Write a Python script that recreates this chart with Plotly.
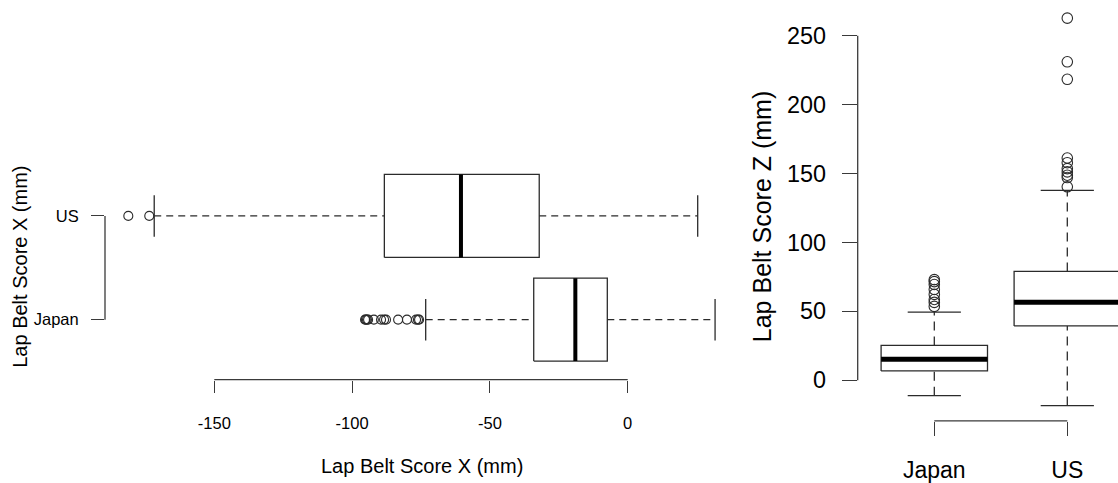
import plotly.graph_objects as go

# ---------------- data ----------------
groups = ["Japan", "US"]
group_pos = [1, 2]

# Left panel: Lap Belt Score X (mm), horizontal boxes
x_lower = [-73.3, -171.8]
x_q1 = [-34.1, -88.3]
x_median = [-19.0, -60.5]
x_q3 = [-7.4, -32.1]
x_upper = [31.7, 25.4]
x_out_japan = [-95.3, -95.0, -94.6, -94.2, -92.1, -89.5, -88.4, -87.7, -83.3, -80.1, -76.8, -76.1, -75.7]
x_out_us = [-181.2, -173.6]
x_ticks = [-150, -100, -50, 0]

# Right panel: Lap Belt Score Z (mm), vertical boxes
z_lower = [-11.3, -18.5]
z_q1 = [6.7, 39.3]
z_median = [15.1, 56.6]
z_q3 = [25.2, 78.9]
z_upper = [49.4, 137.7]
z_out_japan = [72.9, 71.5, 69.4, 65.8, 62.2, 58.5, 56.4, 53.5]
z_out_us = [262.7, 231.0, 218.3, 161.2, 157.8, 153.5, 151.1, 148.7, 147.0, 140.3]
z_ticks = [0, 50, 100, 150, 200, 250]

# ---------------- layout geometry ----------------
W, H = 1118, 483
FONT = "Liberation Sans, Arial, sans-serif"
LINE = "#2b2b2b"
AX = "#3a3a3a"
BOXW = 0.4   # half box width
STAP = 0.2   # half staple width


def px_x(p):
    return p / W


def px_y(p):
    return 1 - p / H


# left panel pixel placement
L_left, L_right, L_top, L_bottom = 105, 735, 140, 382.7
lx0, lxs = 627.7, 2.756          # pixel of value 0, px per unit
ly1, lys = 322.3, 104.6          # pixel of category 1, px per unit
# right panel pixel placement
R_left, R_right, R_top, R_bottom = 857.7, 1118, 0, 424.3
ry0, rys = 383.3, 1.3895
rx1, rxs = 934.3, 133.0

fig = go.Figure()


def seg_lists(orient, lo, q1, med, q3, hi, pos):
    box_a, box_b = [], []
    med_a, med_b = [], []
    wh_a, wh_b = [], []
    st_a, st_b = [], []
    for i in range(len(pos)):
        p = pos[i]
        box_a += [q1[i], q3[i], q3[i], q1[i], q1[i], None]
        box_b += [p - BOXW, p - BOXW, p + BOXW, p + BOXW, p - BOXW, None]
        med_a += [med[i], med[i], None]
        med_b += [p - BOXW, p + BOXW, None]
        wh_a += [lo[i], q1[i], None, q3[i], hi[i], None]
        wh_b += [p, p, None, p, p, None]
        st_a += [lo[i], lo[i], None, hi[i], hi[i], None]
        st_b += [p - STAP, p + STAP, None, p - STAP, p + STAP, None]
    if orient == "h":
        return (box_a, box_b), (med_a, med_b), (wh_a, wh_b), (st_a, st_b)
    return (box_b, box_a), (med_b, med_a), (wh_b, wh_a), (st_b, st_a)


def add_panel(orient, lo, q1, med, q3, hi, outs, xa, ya, medw, dash, msize):
    box, medl, wh, st = seg_lists(orient, lo, q1, med, q3, hi, group_pos)
    fig.add_trace(go.Scatter(x=wh[0], y=wh[1], mode="lines", xaxis=xa, yaxis=ya,
                             line=dict(color=LINE, width=1.3, dash=dash), hoverinfo="skip"))
    fig.add_trace(go.Scatter(x=st[0], y=st[1], mode="lines", xaxis=xa, yaxis=ya,
                             line=dict(color=LINE, width=1.3), hoverinfo="skip"))
    fig.add_trace(go.Scatter(x=box[0], y=box[1], mode="lines", xaxis=xa, yaxis=ya,
                             line=dict(color=LINE, width=1.3), hoverinfo="skip"))
    fig.add_trace(go.Scatter(x=medl[0], y=medl[1], mode="lines", xaxis=xa, yaxis=ya,
                             line=dict(color="black", width=medw), hoverinfo="skip"))
    for p, vals in zip(group_pos, outs):
        other = [p] * len(vals)
        xs, ys = (vals, other) if orient == "h" else (other, vals)
        fig.add_trace(go.Scatter(x=xs, y=ys, mode="markers", xaxis=xa, yaxis=ya,
                                 marker=dict(symbol="circle-open", size=msize,
                                             color=LINE, line=dict(width=1.1)),
                                 cliponaxis=False))


add_panel("h", x_lower, x_q1, x_median, x_q3, x_upper, [x_out_japan, x_out_us],
          "x", "y", 4, "7px,5px", 9)
add_panel("v", z_lower, z_q1, z_median, z_q3, z_upper, [z_out_japan, z_out_us],
          "x2", "y2", 5, "9px,6px", 10.5)

common = dict(showgrid=False, zeroline=False, showline=False, ticks="outside",
              tickcolor=AX, tickwidth=1.3, tickfont=dict(family=FONT, color="black"))

fig.update_layout(
    width=W, height=H, margin=dict(l=0, r=0, t=0, b=0),
    plot_bgcolor="white", paper_bgcolor="white", showlegend=False,
    xaxis=dict(domain=[px_x(L_left), px_x(L_right)],
               range=[(L_left - lx0) / lxs, (L_right - lx0) / lxs],
               tickvals=x_ticks, ticktext=[str(t) for t in x_ticks],
               ticklen=12, ticklabelstandoff=17, anchor="y", **common),
    yaxis=dict(domain=[px_y(L_bottom), px_y(L_top)],
               range=[1 + (ly1 - L_bottom) / lys, 1 + (ly1 - L_top) / lys],
               tickvals=group_pos, ticktext=groups,
               ticklen=13, ticklabelstandoff=9, anchor="x", **common),
    xaxis2=dict(domain=[px_x(R_left), px_x(R_right)],
                range=[1 + (R_left - rx1) / rxs, 1 + (R_right - rx1) / rxs],
                tickvals=group_pos, ticktext=groups,
                ticklen=14, ticklabelstandoff=15, anchor="y2", **common),
    yaxis2=dict(domain=[px_y(R_bottom), px_y(R_top)],
                range=[(ry0 - R_bottom) / rys, (ry0 - R_top) / rys],
                tickvals=z_ticks, ticktext=[str(t) for t in z_ticks],
                ticklen=15, ticklabelstandoff=11, anchor="x2", **common),
)
fig.update_xaxes(tickfont_size=16.5, selector=dict(anchor="y"))
fig.update_yaxes(tickfont_size=16.5, selector=dict(anchor="x"))
fig.update_xaxes(tickfont_size=23, selector=dict(anchor="y2"))
fig.update_yaxes(tickfont_size=23.4, selector=dict(anchor="x2"))

# detached R-style axis lines spanning only the tick range
fig.add_shape(type="line", xref="x", yref="paper", x0=min(x_ticks), x1=max(x_ticks),
              y0=px_y(L_bottom), y1=px_y(L_bottom), line=dict(color=AX, width=1.3))
fig.add_shape(type="line", xref="paper", yref="y", x0=px_x(L_left), x1=px_x(L_left),
              y0=min(group_pos), y1=max(group_pos), line=dict(color=AX, width=1.3))
fig.add_shape(type="line", xref="x2", yref="paper", x0=min(group_pos), x1=max(group_pos),
              y0=px_y(R_bottom), y1=px_y(R_bottom), line=dict(color=AX, width=1.3))
fig.add_shape(type="line", xref="paper", yref="y2", x0=px_x(R_left), x1=px_x(R_left),
              y0=min(z_ticks), y1=max(z_ticks), line=dict(color=AX, width=1.3))

# axis titles
fig.add_annotation(text="Lap Belt Score X (mm)", x=px_x(421.5), y=px_y(470),
                   xref="paper", yref="paper", showarrow=False,
                   xanchor="center", yanchor="middle",
                   font=dict(family=FONT, size=20, color="black"))
fig.add_annotation(text="Lap Belt Score X (mm)", x=px_x(20), y=px_y(269), textangle=-90,
                   xref="paper", yref="paper", showarrow=False,
                   xanchor="center", yanchor="middle",
                   font=dict(family=FONT, size=20, color="black"))
fig.add_annotation(text="Lap Belt Score Z (mm)", x=px_x(762), y=px_y(219), textangle=-90,
                   xref="paper", yref="paper", showarrow=False,
                   xanchor="center", yanchor="middle",
                   font=dict(family=FONT, size=25, color="black"))

fig.write_html("out.html")
